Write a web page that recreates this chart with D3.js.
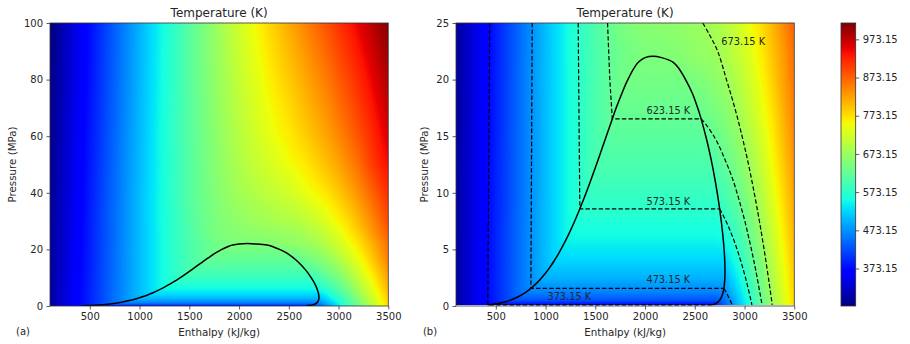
<!DOCTYPE html>
<html><head><meta charset="utf-8">
<script src="https://cdn.jsdelivr.net/npm/d3@7"></script>
<style>
body{margin:0;background:#fff}
svg{display:block}
text{font-family:"DejaVu Sans",sans-serif;fill:#262626}
</style>
</head><body>
<svg id="chart" width="910" height="344"></svg>
<script>
// ---------------- DATA ----------------
// Temperature field T(h, P) in K, columns = enthalpy (kJ/kg), rows = pressure (MPa)
const enthalpyCols = [100,200,300,400,500,600,700,800,900,1000,1100,1200,1300,1400,1500,1600,1700,1800,1900,2000,2100,2200,2300,2400,2500,2600,2700,2800,2900,3000,3100,3200,3300,3400,3500];
const pressureRows = [0.1,0.5,1,1.55,2.5,4,6,8.6,12,16.5,20,22.06,25,30,40,50,60,80,100];
const tRowP0_1  = [297,321,345,369,373,373,373,373,373,373,373,373,373,373,373,373,373,373,373,373,373,373,373,373,373,373,385,435,486,536,586,635,684,732,779];
const tRowP0_5  = [297,321,345,369,392,415,425,425,425,425,425,425,425,425,425,425,425,425,425,425,425,425,425,425,425,425,425,448,494,542,590,638,686,733,783];
const tRowP1    = [297,321,345,369,392,415,439,453,453,453,453,453,453,453,453,453,453,453,453,453,453,453,453,453,453,453,453,462,504,549,596,643,690,736,783];
const tRowP1_55 = [297,321,345,369,392,415,439,461,473,473,473,473,473,473,473,473,473,473,473,473,473,473,473,473,473,473,473,476,515,558,602,648,694,740,786];
const tRowP2_5  = [297,321,345,369,392,415,439,461,483,497,497,497,497,497,497,497,497,497,497,497,497,497,497,497,497,497,497,497,531,570,612,656,700,745,790];
const tRowP4    = [297,322,345,369,392,416,439,461,483,505,524,524,524,524,524,524,524,524,524,524,524,524,524,524,524,524,524,524,553,588,626,667,710,753,797];
const tRowP6    = [296,320,345,369,392,415,439,461,483,505,526,546,549,549,549,549,549,549,549,549,549,549,549,549,549,549,549,553,578,609,644,682,722,764,806];
const tRowP8_6  = [295,319,343,367,391,414,438,460,483,505,526,546,565,573,573,573,573,573,573,573,573,573,573,573,573,573,573,585,607,633,664,700,737,776,817];
const tRowP12   = [295,319,343,367,390,414,437,460,482,504,526,546,565,583,598,598,598,598,598,598,598,598,598,598,598,598,600,616,636,660,688,720,756,792,830];
const tRowP16_5 = [293,317,342,366,389,413,436,460,482,504,526,546,566,583,600,614,623,623,623,623,623,623,623,623,623,627,638,650,667,691,716,745,776,812,848];
const tRowP20   = [293,316,341,365,389,413,436,460,483,505,526,546,567,584,600,614,627,637,639,639,639,639,639,639,644,650,661,671,690,711,734,762,793,825,859];
const tRowP22   = [292,316,340,365,388,412,436,459,482,505,526,547,567,585,601,615,627,636,642,646,647,648,652,656,663,668,672,687,704,721,745,771,800,830,863];
const tRowP25   = [292,316,340,364,388,412,435,459,482,504,526,547,568,586,603,619,635,645,651,655,657,660,662,666,670,675,686,697,714,735,759,784,813,844,876];
const tRowP30   = [290,315,339,363,388,412,436,459,482,505,527,548,567,587,605,622,637,649,656,663,670,676,681,687,692,697,709,721,738,758,778,804,831,860,891];
const tRowP40   = [288,313,337,361,386,410,434,457,481,504,527,548,570,591,611,628,642,656,669,680,689,698,706,714,722,734,747,760,773,793,813,836,861,889,917];
const tRowP50   = [286,310,335,359,384,408,432,456,480,503,526,547,569,589,609,627,645,661,677,690,703,714,725,736,748,759,771,786,803,820,841,863,892,918,940];
const tRowP60   = [284,308,333,357,382,406,430,454,478,502,525,548,570,591,611,630,648,666,682,698,712,726,739,752,764,778,793,809,824,844,863,885,908,933,959];
const tRowP80   = [279,304,329,353,378,403,427,451,475,499,523,546,568,590,612,633,653,672,691,710,726,743,759,775,790,806,823,840,857,877,896,917,939,963,987];
const tRowP100  = [275,300,325,350,375,400,424,449,473,497,521,544,567,590,613,635,657,678,700,721,740,760,779,797,816,834,853,871,890,910,929,950,971,994,1016];
const tempGrid = [tRowP0_1,tRowP0_5,tRowP1,tRowP1_55,tRowP2_5,tRowP4,tRowP6,tRowP8_6,tRowP12,tRowP16_5,tRowP20,tRowP22,tRowP25,tRowP30,tRowP40,tRowP50,tRowP60,tRowP80,tRowP100];

// Saturation dome (water), from 100 C to the critical point
const satP  = [0.1014,0.1434,0.1987,0.2703,0.3615,0.4762,0.6182,0.7922,1.0028,1.2552,1.5549,1.9077,2.3196,2.7971,3.3469,3.9762,4.6923,5.503,6.4166,7.4418,8.5879,9.8651,11.284,12.858,14.601,16.529,17.57,18.666,19.822,21.044,21.55,21.94,22.064];
const satHf = [419.2,461.4,503.8,546.4,589.2,632.3,675.7,719.4,763.1,807.4,852.3,897.8,943.6,990.2,1037.5,1085.8,1135.0,1185.3,1236.9,1290.0,1345.0,1402.2,1462.2,1525.9,1594.5,1670.9,1713,1761.7,1817.4,1890.7,1935,2000,2084.3];
const satHg = [2675.6,2691.1,2705.9,2720.1,2733.5,2745.9,2757.4,2767.9,2777.2,2785.3,2792.0,2797.3,2801.1,2803.0,2802.9,2800.9,2796.6,2789.7,2779.9,2766.7,2749.6,2727.9,2700.6,2666.0,2621.8,2563.6,2526,2481.5,2418,2334.5,2280,2165,2084.3];

// Isotherms [h, P]
const iso373Liquid = [[439,25],[419,0.1014],[2676,0.1014]];
const iso373Vapor  = [];
const iso473Liquid = [[866,25],[852.3,1.5549],[2792,1.5549]];
const iso473Vapor  = [[2792,1.5549],[2815,1.2],[2828,1.0],[2839,0.8],[2850,0.6],[2860.5,0.4],[2870.5,0.2],[2875,0.1]];
const iso573Liquid = [[1328,25],[1333,20],[1343,10],[1345,8.588],[2749.6,8.588]];
const iso573Vapor  = [[2749.6,8.588],[2786,8],[2839,7],[2885,6],[2925,5],[2961,4],[2994,3],[3024,2],[3051,1],[3064,0.5],[3074,0.1]];
const iso623Liquid = [[1623,25],[1646,20],[1670.9,16.529],[2563.6,16.529]];
const iso623Vapor  = [[2563.6,16.529],[2615,16],[2692,15],[2751,14],[2800,13],[2847,12],[2889,11],[2924,10],[2957,9],[2988,8],[3017,7],[3043,6],[3069,5],[3093,4],[3116,3],[3137,2],[3158,1],[3168,0.5],[3176,0.1]];
const iso673Liquid = [];
const iso673Vapor  = [[2580,25],[2645,24],[2730,22.5],[2818,20],[2902,17.5],[2975,15],[3040,12.5],[3097,10],[3139,8],[3178,6],[3214,4],[3248,2],[3264,1],[3272,0.5],[3278,0.1]];

const isoLabelText = ["673.15 K","623.15 K","573.15 K","473.15 K","373.15 K"];
const isoLabelH    = [2987,2234,2234,2234,1239];
const isoLabelP    = [23.35,17.25,9.23,2.33,0.86];

const xTicks = [500,1000,1500,2000,2500,3000,3500];
const yTicksA = [0,20,40,60,80,100];
const yTicksB = [0,5,10,15,20,25];
const cbarTicks = [373.15,473.15,573.15,673.15,773.15,873.15,973.15];
const tMin = 275, tMax = 1016;
const hDomain = [100,3500];

(function(){
// ---------------- COLORMAP (jet) ----------------
const jetR=[[0,0],[0.35,0],[0.66,1],[0.89,1],[1,0.5]];
const jetG=[[0,0],[0.125,0],[0.375,1],[0.64,1],[0.91,0],[1,0]];
const jetB=[[0,0.5],[0.11,1],[0.34,1],[0.65,0],[1,0]];
function seg(pts,t){for(let i=1;i<pts.length;i++){if(t<=pts[i][0]){const a=pts[i-1],b=pts[i];return a[1]+(b[1]-a[1])*(t-a[0])/(b[0]-a[0]);}}return pts[pts.length-1][1];}
function jetRGB(t){t=Math.max(0,Math.min(1,t));return [seg(jetR,t),seg(jetG,t),seg(jetB,t)].map(v=>Math.round(v*255));}
const color = d3.scaleSequential([tMin,tMax], t=>{const c=jetRGB(t);return `rgb(${c[0]},${c[1]},${c[2]})`;});
const norm = d3.scaleLinear([tMin,tMax],[0,1]).clamp(true);

function tempAt(h,P){
  let i=d3.bisectRight(pressureRows,P)-1; i=Math.max(0,Math.min(pressureRows.length-2,i));
  let fp=(P-pressureRows[i])/(pressureRows[i+1]-pressureRows[i]); fp=Math.max(0,Math.min(1,fp));
  let j=d3.bisectRight(enthalpyCols,h)-1; j=Math.max(0,Math.min(enthalpyCols.length-2,j));
  let fh=(h-enthalpyCols[j])/(enthalpyCols[j+1]-enthalpyCols[j]); fh=Math.max(0,Math.min(1,fh));
  const r0=tempGrid[i], r1=tempGrid[i+1];
  const a=r0[j]*(1-fh)+r0[j+1]*fh, b=r1[j]*(1-fh)+r1[j+1]*fh;
  return a*(1-fp)+b*fp;
}

// ---------------- LAYOUT ----------------
const svg = d3.select("#chart");
const plotTop=23, plotBottom=306;
const panels = [
  {id:"a", x0:50, x1:388.3, pMax:100, yTicks:yTicksA, tag:"(a)", tagX:23, ylabX:16.3, iso:false},
  {id:"b", x0:456, x1:794.3, pMax:25, yTicks:yTicksB, tag:"(b)", tagX:430, ylabX:427.6, iso:true}
];
const defs = svg.append("defs");

panels.forEach(p=>{
  const x = d3.scaleLinear(hDomain,[p.x0,p.x1]);
  const y = d3.scaleLinear([0,p.pMax],[plotBottom,plotTop]);
  const g = svg.append("g");
  defs.append("clipPath").attr("id","clip"+p.id).append("rect")
    .attr("x",p.x0).attr("y",plotTop).attr("width",p.x1-p.x0).attr("height",plotBottom-plotTop);

  // heatmap raster
  const W=Math.round(p.x1-p.x0), H=plotBottom-plotTop;
  const cv=document.createElement("canvas"); cv.width=W; cv.height=H;
  const ctx=cv.getContext("2d"); const img=ctx.createImageData(W,H);
  for(let py=0;py<H;py++){
    const P=y.invert(plotTop+py+0.5);
    for(let px=0;px<W;px++){
      const k=(py*W+px)*4;
      if(P<pressureRows[0]){img.data[k+3]=0;continue;}
      const h=x.invert(p.x0+px+0.5);
      const c=jetRGB(norm(tempAt(h,P)));
      img.data[k]=c[0];img.data[k+1]=c[1];img.data[k+2]=c[2];img.data[k+3]=255;
    }
  }
  ctx.putImageData(img,0,0);
  g.append("image").attr("x",p.x0).attr("y",plotTop).attr("width",W).attr("height",H)
    .attr("preserveAspectRatio","none").attr("href",cv.toDataURL());

  const plot = g.append("g").attr("clip-path",`url(#clip${p.id})`);
  const pts = d3.range(satP.length).map(i=>[satHf[i],satP[i]])
    .concat(d3.range(satP.length-2,-1,-1).map(i=>[satHg[i],satP[i]]));
  const lineC = d3.line().x(d=>x(d[0])).y(d=>y(d[1])).curve(d3.curveCatmullRom.alpha(0.5));
  const lineL = d3.line().x(d=>x(d[0])).y(d=>y(d[1]));

  if(p.iso){
    const isoSets=[[iso373Liquid,iso373Vapor],[iso473Liquid,iso473Vapor],[iso573Liquid,iso573Vapor],[iso623Liquid,iso623Vapor],[iso673Liquid,iso673Vapor]];
    isoSets.forEach(([liq,vap])=>{
      if(liq.length) plot.append("path").attr("d",lineL(liq)).attr("fill","none").attr("stroke","#000").attr("stroke-width",1.2).attr("stroke-dasharray","4.4,2.2");
      if(vap.length) plot.append("path").attr("d",lineC(vap)).attr("fill","none").attr("stroke","#000").attr("stroke-width",1.2).attr("stroke-dasharray","4.4,2.2");
    });
    isoLabelText.forEach((t,i)=>{
      g.append("text").attr("x",x(isoLabelH[i])).attr("y",y(isoLabelP[i])).attr("dy","0.35em")
        .attr("text-anchor","middle").style("font-size","9.8px").style("fill","#1e2a2a").text(t);
    });
  }
  plot.append("path").attr("d",lineC(pts)).attr("fill","none").attr("stroke","#000").attr("stroke-width",1.5);

  // frame
  g.append("rect").attr("x",p.x0).attr("y",plotTop).attr("width",p.x1-p.x0).attr("height",plotBottom-plotTop)
    .attr("fill","none").attr("stroke","#333").attr("stroke-width",0.8);

  // axes
  const ax = g.append("g").attr("transform",`translate(0,${plotBottom})`)
    .call(d3.axisBottom(x).tickValues(xTicks).tickFormat(d3.format("d")).tickSize(3.5).tickPadding(3.5).tickSizeOuter(0));
  const ay = g.append("g").attr("transform",`translate(${p.x0},0)`)
    .call(d3.axisLeft(y).tickValues(p.yTicks).tickFormat(d3.format("d")).tickSize(3.5).tickPadding(3.5).tickSizeOuter(0));
  [ax,ay].forEach(a=>{a.select(".domain").remove();a.selectAll("line").attr("stroke","#333").attr("stroke-width",0.8);
    a.selectAll("text").style("font-size","10px").style("fill","#262626").style("font-family","DejaVu Sans");});

  const cx=(p.x0+p.x1)/2;
  g.append("text").attr("x",cx).attr("y",16.7).attr("text-anchor","middle").style("font-size","12px").text("Temperature (K)");
  g.append("text").attr("x",cx).attr("y",335.6).attr("text-anchor","middle").style("font-size","10.3px").text("Enthalpy (kJ/kg)");
  g.append("text").attr("transform",`translate(${p.ylabX},${(plotTop+plotBottom)/2}) rotate(-90)`).attr("text-anchor","middle").style("font-size","10.3px").text("Pressure (MPa)");
  g.append("text").attr("x",p.tagX).attr("y",334.6).attr("text-anchor","middle").style("font-size","10px").text(p.tag);
});

// ---------------- COLORBAR ----------------
const cbX0=841, cbX1=855.7;
const cbY = d3.scaleLinear([tMin,tMax],[plotBottom,plotTop]);
const grad = defs.append("linearGradient").attr("id","jetgrad").attr("x1",0).attr("y1",1).attr("x2",0).attr("y2",0);
d3.range(0,1.0001,1/64).forEach(t=>{
  grad.append("stop").attr("offset",t).attr("stop-color",color(tMin+t*(tMax-tMin)));
});
svg.append("rect").attr("x",cbX0).attr("y",plotTop).attr("width",cbX1-cbX0).attr("height",plotBottom-plotTop)
  .attr("fill","url(#jetgrad)").attr("stroke","#333").attr("stroke-width",0.8);
const ac = svg.append("g").attr("transform",`translate(${cbX1},0)`)
  .call(d3.axisRight(cbY).tickValues(cbarTicks).tickFormat(d3.format(".2f")).tickSize(3.5).tickPadding(3.5).tickSizeOuter(0));
ac.select(".domain").remove();
ac.selectAll("line").attr("stroke","#333").attr("stroke-width",0.8);
ac.selectAll("text").style("font-size","10px").style("fill","#262626").style("font-family","DejaVu Sans");
})();
</script>
</body></html>
